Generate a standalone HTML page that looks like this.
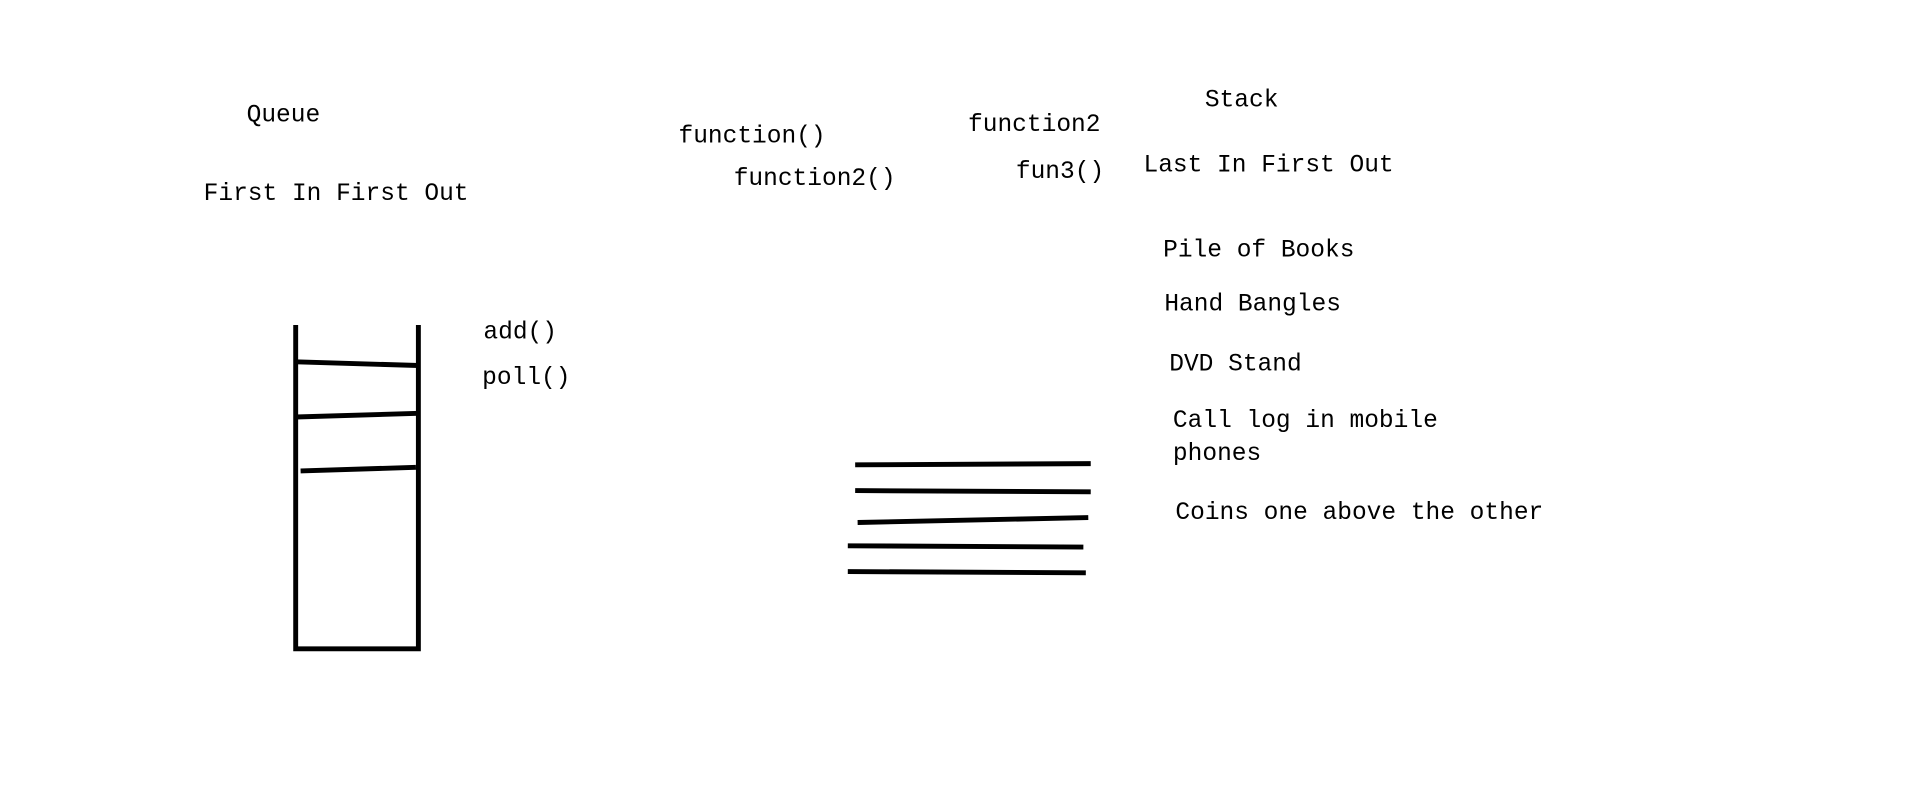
<!DOCTYPE html>
<html><head><meta charset="utf-8"><style>
html,body{margin:0;padding:0;background:#fff;width:1914px;height:796px;overflow:hidden}
svg{display:block}
text{font-family:"Liberation Mono","DejaVu Sans Mono",monospace;font-size:20px;fill:#000}
</style></head><body>
<svg width="1914" height="796" viewBox="0 0 1560 649" preserveAspectRatio="none">
<g stroke="#000" stroke-width="4" fill="none" stroke-linecap="butt">
<path d="M241 265 V530 M341 265 V530 M239 529 H343"/>
<path d="M241 295 L341 298 M241 340 L341 337 M245 384 L339 381"/>
<path d="M697 379 L889 378 M697 400 L889 401 M699 426 L887 422 M691 445 L883 446 M691 466 L885 467"/>
</g>
<text x="201" y="99">Queue</text>
<text x="166" y="163">First In First Out</text>
<text x="553" y="116">function()</text>
<text x="598" y="151">function2()</text>
<text x="789" y="107">function2</text>
<text x="828" y="145">fun3()</text>
<text x="982" y="87">Stack</text>
<text x="932" y="140">Last In First Out</text>
<text x="948" y="209">Pile of Books</text>
<text x="949" y="253">Hand Bangles</text>
<text x="953" y="302">DVD Stand</text>
<text x="956" y="348">Call log in mobile</text>
<text x="956" y="375">phones</text>
<text x="958" y="423">Coins one above the other</text>
<text x="394" y="276">add()</text>
<text x="393" y="313">poll()</text>
</svg>
</body></html>
